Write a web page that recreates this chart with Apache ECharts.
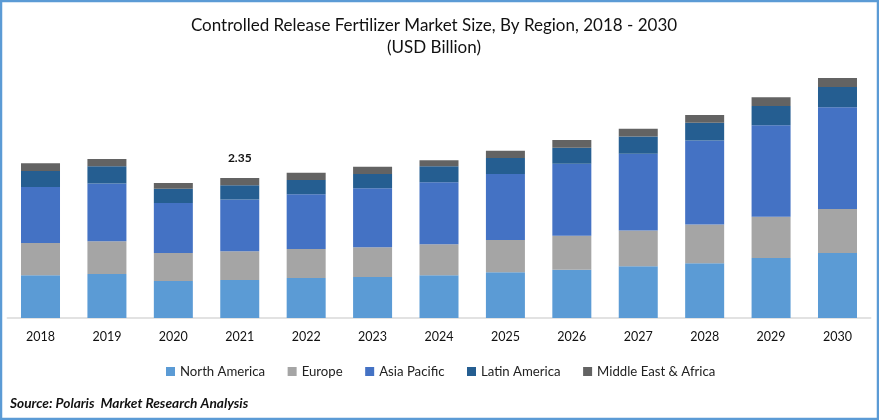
<!DOCTYPE html>
<html>
<head>
<meta charset="utf-8">
<style>
  html, body { margin: 0; padding: 0; background: #fff; }
  #chart { width: 879px; height: 420px; }
</style>
<script src="https://cdn.jsdelivr.net/npm/echarts@6/dist/echarts.min.js"></script>
</head>
<body>
<div id="chart"></div>
<script>
var years = ['2018', '2019', '2020', '2021', '2022', '2023', '2024', '2025', '2026', '2027', '2028', '2029', '2030'];
var northAmerica = [0.72, 0.74, 0.62, 0.64, 0.67, 0.69, 0.72, 0.77, 0.81, 0.87, 0.92, 1.01, 1.09];
var europe = [0.54, 0.55, 0.47, 0.48, 0.49, 0.50, 0.52, 0.54, 0.57, 0.60, 0.65, 0.69, 0.74];
var asiaPacific = [0.94, 0.97, 0.84, 0.87, 0.92, 0.99, 1.04, 1.11, 1.21, 1.29, 1.41, 1.54, 1.71];
var latinAmerica = [0.27, 0.29, 0.24, 0.24, 0.24, 0.24, 0.27, 0.27, 0.27, 0.29, 0.30, 0.32, 0.34];
var middleEast = [0.13, 0.12, 0.10, 0.12, 0.12, 0.12, 0.10, 0.12, 0.13, 0.13, 0.13, 0.15, 0.15];
var labelYear = '2021';
var labelValue = '2.35';

var font = 'Lato';
var chart = echarts.init(document.getElementById('chart'));

function barSeries(name, values, color) {
  return { name: name, type: 'bar', stack: 'total', barWidth: 39, data: values, itemStyle: { color: color } };
}

var series = [
  barSeries('North America', northAmerica, '#5B9BD5'),
  barSeries('Europe', europe, '#A5A5A5'),
  barSeries('Asia Pacific', asiaPacific, '#4472C4'),
  barSeries('Latin America', latinAmerica, '#255E91'),
  barSeries('Middle East & Africa', middleEast, '#636363')
];

// only one year carries a total, it sits above the top segment
series[4].label = {
  show: true,
  position: 'top',
  distance: 14,
  fontFamily: font,
  fontSize: 12,
  fontWeight: 'bold',
  color: '#111',
  formatter: function (p) { return p.name === labelYear ? labelValue : ''; }
};

chart.setOption({
  animation: false,
  backgroundColor: '#fff',
  title: [{
    text: 'Controlled Release Fertilizer Market Size, By Region, 2018 - 2030\n(USD Billion)',
    left: 429,
    top: 9,
    textAlign: 'center',
    textStyle: { fontFamily: font, fontSize: 17, fontWeight: 'normal', color: '#111', lineHeight: 22.5 }
  }, {
    text: 'Source: Polaris  Market Research Analysis',
    left: 5,
    top: 392,
    textStyle: { fontFamily: font, fontSize: 13.7, fontWeight: 'bold', fontStyle: 'italic', color: '#111' }
  }],
  legend: {
    left: 161,
    top: 360,
    icon: 'rect',
    itemWidth: 9,
    itemHeight: 9,
    itemGap: 22.5,
    textStyle: { fontFamily: font, fontSize: 13.2, color: '#222' },
    data: series.map(function (s) { return s.name; })
  },
  grid: { left: 7.3, right: 8.3, top: 68, height: 250 },
  xAxis: {
    type: 'category',
    data: years,
    axisTick: { show: false },
    axisLine: { lineStyle: { color: '#D9D9D9', width: 1.5 } },
    axisLabel: { fontFamily: font, fontSize: 12.5, color: '#111', margin: 12 }
  },
  yAxis: { type: 'value', min: 0, max: 4.2, show: false },
  series: series,
  graphic: [{
    type: 'rect',
    shape: { x: 1, y: 1, width: 877, height: 418 },
    style: { fill: 'none', stroke: '#5B9BD5', lineWidth: 2.5 },
    silent: true
  }]
});
</script>
</body>
</html>
